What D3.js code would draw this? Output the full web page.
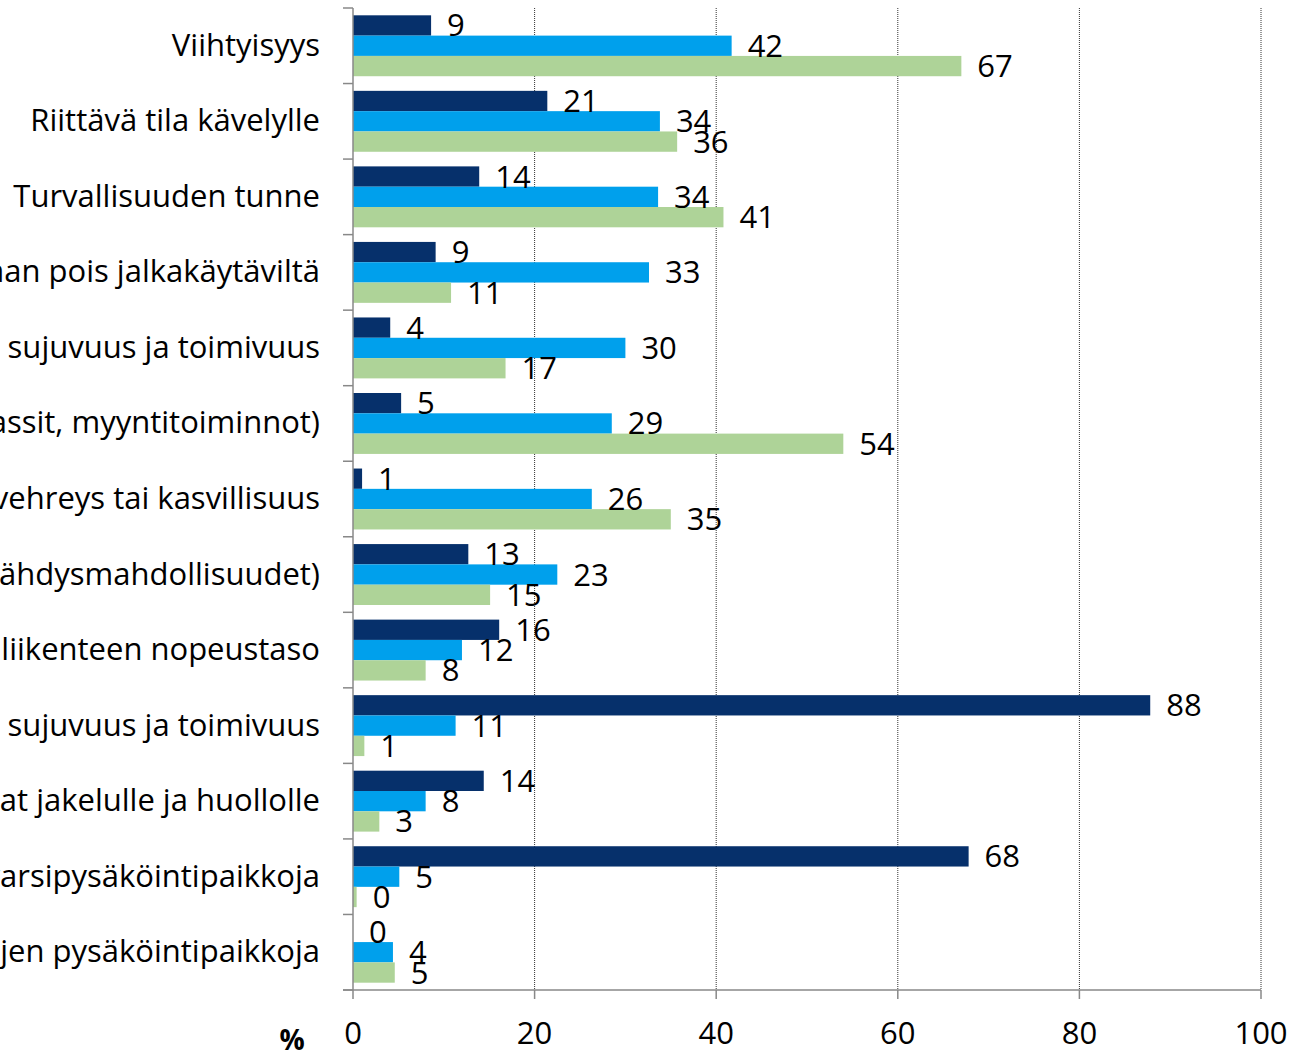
<!DOCTYPE html>
<html>
<head>
<meta charset="utf-8">
<script src="https://cdn.jsdelivr.net/npm/d3@7"></script>
<style>
  body { margin: 0; background: #fff; }
  svg { display: block; font-family: 'Open Sans', sans-serif; }
</style>
</head>
<body>
<div id="chart"></div>
<script>
const categories = [
  'Viihtyisyys',
  'Riittävä tila kävelylle',
  'Turvallisuuden tunne',
  'Pyöräliikenne ohjataan pois jalkakäytäviltä',
  'Pyöräliikenteen sujuvuus ja toimivuus',
  'Elävyys (terassit, myyntitoiminnot)',
  'Katujen vehreys tai kasvillisuus',
  'Oleskelu (istuskelu- ja levähdysmahdollisuudet)',
  'Pyöräliikenteen nopeustaso',
  'Autoliikenteen sujuvuus ja toimivuus',
  'Pysäköintipaikat jakelulle ja huollolle',
  'Kadunvarsipysäköintipaikkoja',
  'Moottoripyörien ja mopojen pysäköintipaikkoja'
];
const seriesNames = ['s1', 's2', 's3'];
const navyValues  = [8.6, 21.4, 13.9, 9.1, 4.1, 5.3, 1.0, 12.7, 16.1, 87.8, 14.4, 67.8, 0];
const blueValues  = [41.7, 33.8, 33.6, 32.6, 30.0, 28.5, 26.3, 22.5, 12.0, 11.3, 8.0, 5.1, 4.4];
const greenValues = [67.0, 35.7, 40.8, 10.8, 16.8, 54.0, 35.0, 15.1, 8.0, 1.25, 2.9, 0.4, 4.6];
const xTicks = [0, 20, 40, 60, 80, 100];

const colors = ['#06306b', '#00a0ec', '#aed398'];
const W = 1294, H = 1050;
const mLeft = 353, mRight = 1261, mTop = 8, mBottom = 990;
const fontSize = 31;

const svg = d3.select('#chart').append('svg').attr('width', W).attr('height', H);

const x = d3.scaleLinear().domain([0, 100]).range([mLeft, mRight]);
const y0 = d3.scaleBand().domain(categories).range([mTop, mBottom]).padding(0);
const y1 = d3.scaleBand().domain(seriesNames).range([0, y0.bandwidth()])
  .paddingInner(0).paddingOuter(0.36);

// Gridlines (dotted)
svg.append('g').selectAll('line').data(xTicks.slice(1)).join('line')
  .attr('x1', d => x(d)).attr('x2', d => x(d))
  .attr('y1', mTop).attr('y2', mBottom)
  .attr('stroke', '#333').attr('stroke-width', 1)
  .attr('stroke-dasharray', '1,1');

// Bars
const rows = categories.map((c, i) => ({
  cat: c,
  vals: [navyValues[i], blueValues[i], greenValues[i]]
}));
const fmt = d3.format('.0f');

const grp = svg.append('g').selectAll('g').data(rows).join('g')
  .attr('transform', d => `translate(0,${y0(d.cat)})`);

grp.selectAll('rect').data(d => d.vals.map((v, k) => ({ v, k }))).join('rect')
  .attr('x', x(0))
  .attr('y', d => y1(seriesNames[d.k]))
  .attr('width', d => x(d.v) - x(0))
  .attr('height', y1.bandwidth())
  .attr('fill', d => colors[d.k]);

grp.selectAll('text').data(d => d.vals.map((v, k) => ({ v, k }))).join('text')
  .attr('x', d => x(d.v) + 16)
  .attr('y', d => y1(seriesNames[d.k]) + y1.bandwidth() / 2 - 1)
  .attr('dominant-baseline', 'central')
  .attr('font-size', fontSize)
  .attr('fill', '#000')
  .text(d => fmt(d.v));

// Left axis
svg.append('line').attr('x1', mLeft).attr('x2', mLeft).attr('y1', mTop).attr('y2', mBottom)
  .attr('stroke', '#888').attr('stroke-width', 1.5);
const bounds = categories.map(c => y0(c)).concat([mBottom]);
svg.append('g').selectAll('line').data(bounds).join('line')
  .attr('x1', mLeft - 10).attr('x2', mLeft)
  .attr('y1', d => d).attr('y2', d => d)
  .attr('stroke', '#888').attr('stroke-width', 1.5);

// Category labels
svg.append('g').selectAll('text').data(categories).join('text')
  .attr('x', mLeft - 33)
  .attr('y', d => y0(d) + y0.bandwidth() / 2 - 2)
  .attr('text-anchor', 'end')
  .attr('dominant-baseline', 'central')
  .attr('font-size', fontSize)
  .attr('fill', '#000')
  .text(d => d);

// Bottom axis
svg.append('line').attr('x1', mLeft - 10).attr('x2', mRight).attr('y1', mBottom).attr('y2', mBottom)
  .attr('stroke', '#888').attr('stroke-width', 1.5);
svg.append('g').selectAll('line').data(xTicks).join('line')
  .attr('x1', d => x(d)).attr('x2', d => x(d))
  .attr('y1', mBottom).attr('y2', mBottom + 9)
  .attr('stroke', '#888').attr('stroke-width', 1.5);
svg.append('g').selectAll('text').data(xTicks).join('text')
  .attr('x', d => x(d))
  .attr('y', 1032)
  .attr('text-anchor', 'middle')
  .attr('dominant-baseline', 'central')
  .attr('font-size', fontSize)
  .attr('fill', '#000')
  .text(d => d);

svg.append('text')
  .attr('x', 292).attr('y', 1039)
  .attr('text-anchor', 'middle')
  .attr('dominant-baseline', 'central')
  .attr('font-size', 28).attr('font-weight', 'bold')
  .text('%');
</script>
</body>
</html>
